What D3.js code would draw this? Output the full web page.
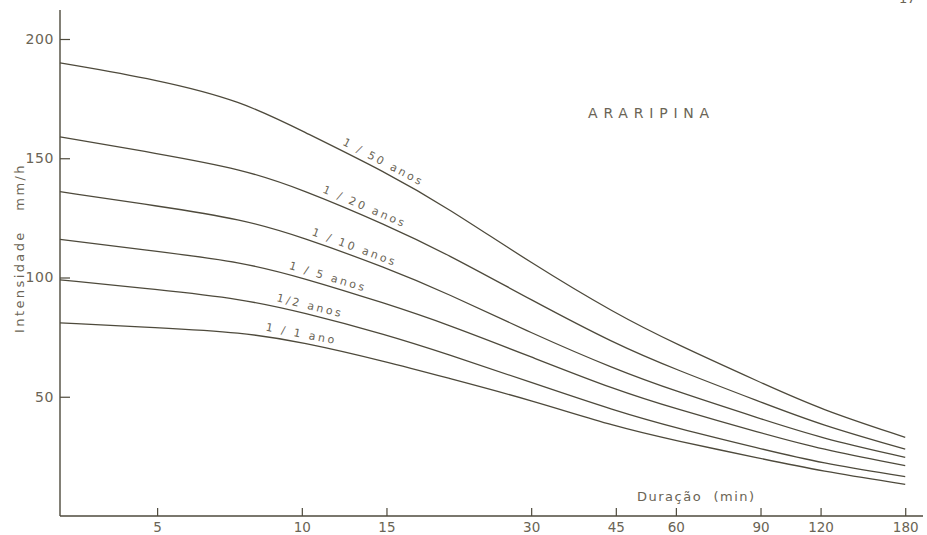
<!DOCTYPE html>
<html>
<head>
<meta charset="utf-8">
<script src="https://cdn.jsdelivr.net/npm/d3@7"></script>
<style>
  html, body { margin: 0; padding: 0; background: #ffffff; }
  svg { display: block; }
  text { font-family: "DejaVu Sans", sans-serif; fill: #6a6455; }
</style>
</head>
<body>
<svg id="chart" width="927" height="535"></svg>
<script>
// Intensity–duration–frequency curves, Araripina
const durations = [3.14, 5, 7.5, 10, 15, 20, 30, 45, 60, 90, 120, 180]; // min
const rp50 = [190, 183, 174, 161.5, 144, 129.5, 106, 84.7, 72.1, 56, 44.7, 33];
const rp20 = [159, 152, 145.5, 137, 122, 110, 90.6, 72, 61.4, 47.8, 38.2, 28];
const rp10 = [136, 130, 124.5, 117, 104, 93.5, 76.7, 61.4, 52.3, 40.8, 32.7, 24.6];
const rp5  = [116, 111, 106.5, 100, 89, 80.5, 66.7, 52.8, 44.9, 34.9, 28, 21.1];
const rp2  = [99, 95, 91, 85.5, 76, 68, 56, 44, 36.9, 28.2, 22.2, 16.5];
const rp1  = [81, 79, 77, 73, 64.7, 58, 48.6, 37.4, 31.6, 24.1, 18.9, 13.3];

const seriesNames = ["1 / 50 anos", "1 / 20 anos", "1 / 10 anos", "1 / 5 anos", "1/2 anos", "1 / 1 ano"];
const seriesValues = [rp50, rp20, rp10, rp5, rp2, rp1];
const labelAt = [14.5, 13.3, 12.7, 11.2, 10.3, 9.9]; // duration where each label sits

const xTicks = [5, 10, 15, 30, 45, 60, 90, 120, 180];
const yTicks = [50, 100, 150, 200];

const inkLine = "#4e4a3c";
const svg = d3.select("#chart");

const x = d3.scaleLog().domain([3.14, 196]).range([60, 923]);
const y = d3.scaleLinear().domain([0, 200]).range([516, 39]);

// axes
const xAxis = d3.axisBottom(x).tickValues(xTicks).tickFormat(d3.format("d"))
  .tickSizeInner(-8).tickSizeOuter(0).tickPadding(6);
const gx = svg.append("g").attr("transform", `translate(0,${y(0)})`).call(xAxis);
gx.select(".domain").remove();
gx.selectAll(".tick line").attr("stroke", inkLine).attr("stroke-width", 1.2);
gx.selectAll(".tick text").attr("font-size", 13.5).style("font-family", "DejaVu Sans").attr("fill", "#6a6455");
svg.append("line").attr("x1", x.range()[0]).attr("x2", x.range()[1])
  .attr("y1", y(0)).attr("y2", y(0)).attr("stroke", inkLine).attr("stroke-width", 1.4);

const yAxis = d3.axisLeft(y).tickValues(yTicks).tickSizeInner(-10).tickSizeOuter(0).tickPadding(6);
const gy = svg.append("g").attr("transform", `translate(${x.range()[0]},0)`).call(yAxis);
gy.select(".domain").remove();
gy.selectAll(".tick line").attr("stroke", inkLine).attr("stroke-width", 1.2);
gy.selectAll(".tick text").attr("font-size", 14).attr("letter-spacing", 0.6)
  .style("font-family", "DejaVu Sans").attr("fill", "#6a6455");
svg.append("line").attr("x1", x.range()[0]).attr("x2", x.range()[0])
  .attr("y1", 10).attr("y2", y(0)).attr("stroke", inkLine).attr("stroke-width", 1.4);

// curves
const line = d3.line().x(d => x(d[0])).y(d => y(d[1])).curve(d3.curveBasis);
const paths = seriesValues.map(vals => {
  const pts = durations.map((t, i) => [t, vals[i]]);
  return svg.append("path").datum(pts).attr("d", line)
    .attr("fill", "none").attr("stroke", inkLine).attr("stroke-width", 1.3);
});

// labels along each curve
function lengthAtX(node, px) {
  let lo = 0, hi = node.getTotalLength();
  for (let k = 0; k < 40; k++) {
    const mid = (lo + hi) / 2;
    if (node.getPointAtLength(mid).x < px) lo = mid; else hi = mid;
  }
  return lo;
}
paths.forEach((p, i) => {
  const node = p.node();
  const len = lengthAtX(node, x(labelAt[i]));
  const a = node.getPointAtLength(len - 14), b = node.getPointAtLength(len + 14);
  const c = node.getPointAtLength(len);
  const ang = Math.atan2(b.y - a.y, b.x - a.x) * 180 / Math.PI;
  svg.append("text")
    .attr("transform", `translate(${c.x},${c.y}) rotate(${ang})`)
    .attr("y", -5).attr("text-anchor", "middle")
    .attr("font-size", 11).attr("letter-spacing", 2.6)
    .text(seriesNames[i]);
});

// titles
svg.append("text").attr("x", 588).attr("y", 118).attr("font-size", 14)
  .attr("letter-spacing", 5.8).text("ARARIPINA");
svg.append("text").attr("x", 637).attr("y", 501).attr("font-size", 13)
  .attr("letter-spacing", 1.5).attr("xml:space", "preserve").text("Duração  (min)");
svg.append("text").attr("transform", "translate(24,248) rotate(-90)")
  .attr("text-anchor", "middle").attr("font-size", 13).attr("letter-spacing", 2.4)
  .attr("xml:space", "preserve").text("Intensidade   mm/h");
// page number at the top edge of the sheet
svg.append("text").attr("x", 899).attr("y", 3).attr("font-size", 13).text("17");
</script>
</body>
</html>
